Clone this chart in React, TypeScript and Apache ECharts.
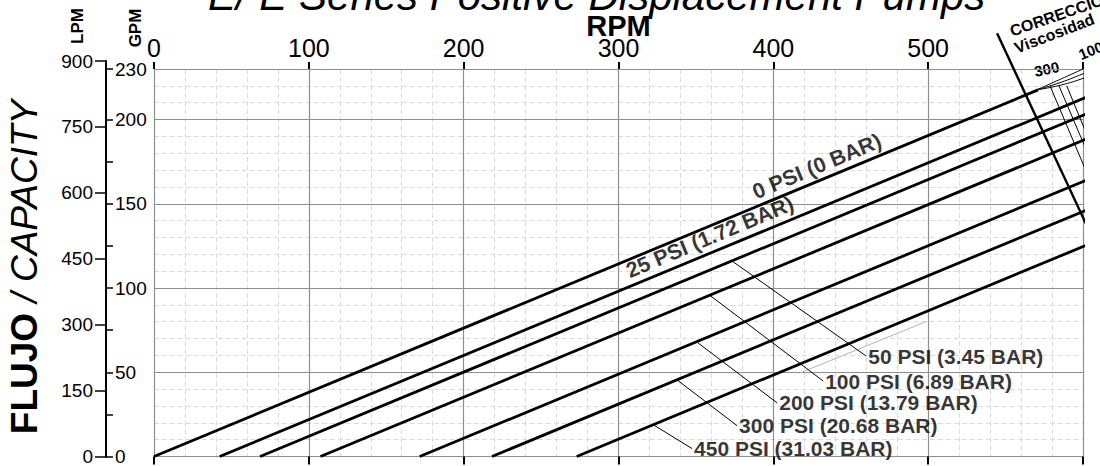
import React, { useEffect, useRef } from 'react';
import * as echarts from 'echarts';

// ---- axis ticks ----
const rpmMax = 600;
const gpmMax = 230;
const lpmMax = 900;
const gpmTickValues = [0, 25, 50, 75, 100, 125, 150, 175, 200, 230];

// ---- pressure curves (RPM at zero flow, end point RPM / GPM) ----
const pressureNames = [
  '0 PSI (0 BAR)',
  '25 PSI (1.72 BAR)',
  '50 PSI (3.45 BAR)',
  '100 PSI (6.89 BAR)',
  '200 PSI (13.79 BAR)',
  '300 PSI (20.68 BAR)',
  '450 PSI (31.03 BAR)',
];
const startRpm = [0, 42.4, 68.5, 107.5, 171.6, 218.3, 273];
const endRpm = [571, 611, 611, 611, 611, 611, 611];
const endGpm = [217.6, 216.6, 206.7, 191.8, 167.4, 149.6, 128.8];

// ---- leader lines for horizontal labels (50..450 PSI) ----
const leaderFrom = [
  [374.0, 115.6],
  [359.2, 95.5],
  [350.8, 67.8],
  [337.9, 45.4],
  [322.4, 18.9],
];
const leaderTo = [
  [460, 59.6],
  [432.2, 44.8],
  [402.5, 31.8],
  [376.6, 18.3],
  [347.5, 4.7],
];

// ---- slanted labels on 0 and 25 PSI ----
const slantAt = [
  [430.9, 165.5],
  [361.8, 123.5],
];

// ---- faint auxiliary segment ----
const faintLine = [
  [417, 49.5],
  [499, 80.2],
];

// ---- viscosity correction nomograph ----
const corrAxis = [
  [544.5, 251.2],
  [606.5, 129.1],
];
const corrGuides = [
  [[578.7, 220], [611, 149.8]],
  [[584.5, 220], [611, 162.8]],
  [[589.5, 220], [611, 172]],
];
const corrFan = [
  [[570, 217.6], [588, 225], [611, 234.6]],
  [[570, 217.6], [590, 223.5], [611, 231.6]],
  [[570, 217.6], [592, 222], [611, 228.6]],
];

const FONT = 'Liberation Sans, Arial, sans-serif';

export default function App() {
  const ref = useRef<HTMLDivElement>(null);

  useEffect(() => {
    if (!ref.current) return;
    const chart = echarts.init(ref.current, null, { renderer: 'svg' });

    const black = '#000';
    const lineSeries: any[] = pressureNames.map((name, i) => ({
      name,
      type: 'line',
      xAxisIndex: 0,
      yAxisIndex: 0,
      data: [
        [startRpm[i], 0],
        [endRpm[i], endGpm[i]],
      ],
      symbol: 'none',
      clip: false,
      z: 5,
      lineStyle: { color: black, width: 2.8 },
      silent: true,
    }));

    const leaderSeries = leaderFrom.map((p, i) => ({
      type: 'line',
      xAxisIndex: 0,
      yAxisIndex: 0,
      data: [p, leaderTo[i]],
      symbol: 'none',
      clip: false,
      z: 4,
      lineStyle: { color: black, width: 1 },
      silent: true,
    }));

    const corrSeries: any[] = [
      {
        type: 'line',
        data: corrAxis,
        symbol: 'none',
        clip: false,
        z: 6,
        lineStyle: { color: black, width: 2.4 },
      },
      ...corrGuides.map((d) => ({
        type: 'line',
        data: d,
        symbol: 'none',
        clip: false,
        z: 6,
        lineStyle: { color: black, width: 1 },
      })),
      ...corrFan.map((d) => ({
        type: 'line',
        data: d,
        smooth: true,
        symbol: 'none',
        clip: false,
        z: 6,
        lineStyle: { color: black, width: 1 },
      })),
    ];

    const axisLineBlack = { show: true, onZero: false, lineStyle: { color: black, width: 2 } };

    const option: any = {
      animation: false,
      backgroundColor: '#fff',
      textStyle: { fontFamily: FONT },
      title: {
        text: 'E/ E Series Positive Displacement Pumps',
        left: 203,
        top: -31,
        textStyle: {
          fontFamily: FONT,
          fontStyle: 'italic',
          fontWeight: 'normal',
          fontSize: 42,
          color: '#000',
        },
      },
      grid: [
        { left: 154, right: 17, top: 69, bottom: 7 },
        { left: 154, right: 17, top: 61, bottom: 7 },
      ],
      xAxis: [
        {
          gridIndex: 0,
          type: 'value',
          position: 'top',
          min: 0,
          max: rpmMax,
          interval: 100,
          z: 1,
          name: 'RPM',
          nameLocation: 'middle',
          nameGap: 29,
          nameMoveOverlap: false,
          nameTextStyle: { fontFamily: FONT, fontWeight: 'bold', fontSize: 29, color: '#000' },
          axisLine: { show: false, onZero: false },
          axisTick: { show: true, inside: false, length: 7, lineStyle: { color: black, width: 2 } },
          axisLabel: {
            fontFamily: FONT,
            fontSize: 25,
            color: '#000',
            margin: 9,
            formatter: (v: number) => (v >= rpmMax ? '' : String(v)),
          },
          splitLine: { show: true, lineStyle: { color: '#8f8f8f', width: 1.2 } },
        },
        {
          gridIndex: 0,
          type: 'value',
          position: 'bottom',
          min: 0,
          max: rpmMax,
          interval: 100,
          z: 1,
          axisLine: { show: false, onZero: false },
          axisTick: { show: true, length: 8, lineStyle: { color: black, width: 2 } },
          axisLabel: { show: false },
          splitLine: { show: false },
        },
        {
          gridIndex: 0,
          type: 'value',
          min: 0,
          max: rpmMax,
          interval: 20,
          z: 0,
          axisLine: { show: false, onZero: false },
          axisTick: { show: false },
          axisLabel: { show: false },
          splitLine: { show: true, lineStyle: { color: '#dcdcdc', width: 1, type: [5, 3] } },
        },
        {
          gridIndex: 1,
          type: 'value',
          min: 0,
          max: rpmMax,
          show: false,
          axisLine: { onZero: false },
        },
      ],
      yAxis: [
        {
          gridIndex: 0,
          type: 'value',
          position: 'left',
          offset: 48,
          min: 0,
          max: gpmMax,
          interval: 50,
          z: 1,
          axisLine: axisLineBlack,
          axisTick: {
            show: true,
            inside: true,
            length: 7,
            customValues: gpmTickValues,
            lineStyle: { color: black, width: 1.5 },
          },
          axisLabel: { inside: true, margin: 9, fontFamily: FONT, fontSize: 19, color: '#000' },
          splitLine: { show: false },
        },
        {
          gridIndex: 0,
          type: 'value',
          min: 0,
          max: gpmMax,
          interval: 10,
          z: 0,
          axisLine: { show: false, onZero: false },
          axisTick: { show: false },
          axisLabel: { show: false },
          splitLine: { show: true, lineStyle: { color: '#dcdcdc', width: 1, type: [5, 3] } },
        },
        {
          gridIndex: 0,
          type: 'value',
          min: 0,
          max: gpmMax,
          interval: 50,
          z: 1,
          axisLine: { show: false, onZero: false },
          axisTick: { show: false },
          axisLabel: { show: false },
          splitLine: { show: true, lineStyle: { color: '#8f8f8f', width: 1.2 } },
        },
        {
          gridIndex: 1,
          type: 'value',
          position: 'left',
          offset: 48,
          min: 0,
          max: lpmMax,
          interval: 150,
          z: 1,
          axisLine: axisLineBlack,
          axisTick: { show: true, inside: false, length: 11, lineStyle: { color: black, width: 1.5 } },
          axisLabel: { margin: 13, fontFamily: FONT, fontSize: 19, color: '#000' },
          splitLine: { show: false },
        },
      ],
      series: [
        ...lineSeries,
        ...leaderSeries,
        {
          type: 'line',
          data: faintLine,
          symbol: 'none',
          clip: false,
          z: 3,
          lineStyle: { color: '#b5b5b5', width: 1 },
        },
        {
          type: 'scatter',
          data: leaderTo.map((p, i) => ({ name: pressureNames[i + 2], value: p })),
          symbolSize: 0,
          clip: false,
          z: 8,
          label: {
            show: true,
            position: 'right',
            distance: 2,
            formatter: '{b}',
            fontFamily: FONT,
            fontWeight: 'bold',
            fontSize: 21,
            color: '#000',
          },
        },
        {
          type: 'scatter',
          data: slantAt.map((p, i) => ({ name: pressureNames[i], value: p })),
          symbolSize: 0,
          clip: false,
          z: 8,
          label: {
            show: true,
            position: 'top',
            distance: 1,
            rotate: 22.7,
            formatter: '{b}',
            fontFamily: FONT,
            fontWeight: 'bold',
            fontSize: 21.5,
            color: '#000',
          },
        },
        ...corrSeries,
      ],
      graphic: [
        {
          type: 'text',
          x: 77,
          y: 26,
          rotation: Math.PI / 2,
          style: { text: 'LPM', font: `bold 17px ${FONT}`, fill: '#000', align: 'center', verticalAlign: 'middle' },
        },
        {
          type: 'text',
          x: 135,
          y: 28,
          rotation: Math.PI / 2,
          style: { text: 'GPM', font: `bold 17px ${FONT}`, fill: '#000', align: 'center', verticalAlign: 'middle' },
        },
        {
          type: 'text',
          x: 24,
          y: 267,
          rotation: Math.PI / 2,
          style: {
            text: '{b|FLUJO }{i|/ CAPACITY}',
            align: 'center',
            verticalAlign: 'middle',
            fill: '#000',
            rich: {
              b: { fontFamily: FONT, fontWeight: 'bold', fontSize: 37, fill: '#000' },
              i: { fontFamily: FONT, fontStyle: 'italic', fontSize: 37, fill: '#000' },
            },
          },
        },
        {
          type: 'text',
          x: 1013,
          y: 39,
          rotation: (19 * Math.PI) / 180,
          style: { text: 'CORRECCIÓN', font: `bold 16px ${FONT}`, fill: '#000', align: 'left', verticalAlign: 'bottom' },
        },
        {
          type: 'text',
          x: 1018,
          y: 56,
          rotation: (21 * Math.PI) / 180,
          style: { text: 'Viscosidad', font: `bold 16px ${FONT}`, fill: '#000', align: 'left', verticalAlign: 'bottom' },
        },
        {
          type: 'text',
          x: 1036,
          y: 79,
          rotation: (12 * Math.PI) / 180,
          style: { text: '300', font: `bold 15px ${FONT}`, fill: '#000', align: 'left', verticalAlign: 'bottom' },
        },
        {
          type: 'text',
          x: 1082,
          y: 62,
          rotation: (22 * Math.PI) / 180,
          style: { text: '1000', font: `bold 15px ${FONT}`, fill: '#000', align: 'left', verticalAlign: 'bottom' },
        },
      ],
    };

    chart.setOption(option);
    return () => chart.dispose();
  }, []);

  return <div ref={ref} style={{ width: 1100, height: 466, position: 'absolute', left: 0, top: 0 }} />;
}
